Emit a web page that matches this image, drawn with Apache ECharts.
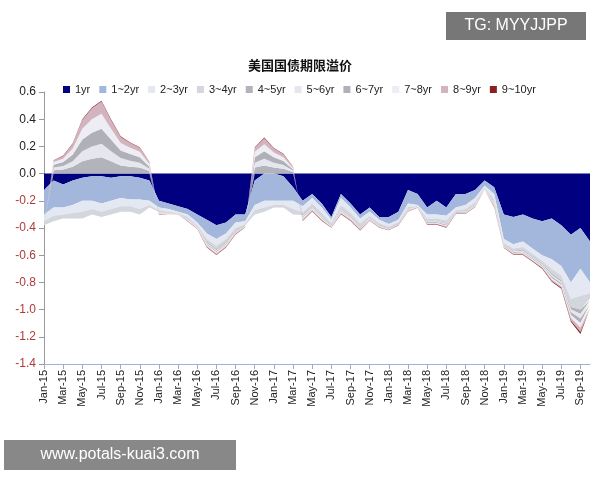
<!DOCTYPE html>
<html><head><meta charset="utf-8">
<script src="https://cdn.jsdelivr.net/npm/echarts@6/dist/echarts.min.js"></script>
<style>html,body{margin:0;padding:0;background:#fff}#c{width:600px;height:480px}</style>
</head><body><div id="c"></div>
<script>
const months = ['Jan','Feb','Mar','Apr','May','Jun','Jul','Aug','Sep','Oct','Nov','Dec'];
const categories = [];
for (let y = 15; y <= 19; y++) for (let m = 0; m < 12; m++) { if (y === 19 && m > 9) break; categories.push(months[m] + '-' + y); }
const seriesNames = ['1yr','1~2yr','2~3yr','3~4yr','4~5yr','5~6yr','6~7yr','7~8yr','8~9yr','9~10yr'];
const colors = ['#000080','#a3b7dc','#e3e8f3','#d4d6de','#b3b3bb','#e6e7ee','#b0b0b8','#ededf3','#d2b4c0','#8a2020'];
const y1 = [-0.12,-0.05,-0.08,-0.05,-0.03,-0.02,-0.02,-0.03,-0.02,-0.02,-0.03,-0.05,
 -0.2,-0.22,-0.24,-0.26,-0.3,-0.34,-0.38,-0.36,-0.3,-0.3,-0.05,0,
 0,-0.02,-0.1,-0.2,-0.15,-0.22,-0.32,-0.15,-0.22,-0.3,-0.25,-0.32,
 -0.32,-0.28,-0.12,-0.15,-0.25,-0.2,-0.25,-0.15,-0.15,-0.12,-0.05,-0.1,
 -0.3,-0.32,-0.3,-0.33,-0.35,-0.33,-0.38,-0.45,-0.4,-0.5];
const y2 = [-0.18,-0.2,-0.17,-0.18,-0.17,-0.18,-0.2,-0.17,-0.16,-0.17,-0.16,-0.15,
 -0.05,-0.04,-0.04,-0.04,-0.06,-0.1,-0.1,-0.08,-0.06,-0.05,-0.18,-0.2,
 -0.2,-0.18,-0.1,-0.04,-0.03,-0.03,-0.02,-0.03,-0.03,-0.03,-0.03,-0.02,
 -0.05,-0.06,-0.1,-0.08,-0.05,-0.1,-0.06,-0.1,-0.08,-0.06,-0.04,-0.05,
 -0.18,-0.2,-0.2,-0.22,-0.25,-0.3,-0.3,-0.35,-0.3,-0.3];
const y3 = [-0.05,-0.06,-0.05,-0.06,-0.08,-0.06,-0.06,-0.06,-0.06,-0.05,-0.07,-0.03,
 -0.02,-0.02,-0.01,-0.02,-0.02,-0.04,-0.05,-0.04,-0.04,-0.02,-0.04,-0.05,
 -0.03,-0.03,-0.06,-0.045,-0.04,-0.04,-0.025,-0.05,-0.04,-0.035,-0.03,-0.025,
 -0.02,-0.015,-0.025,-0.01,-0.03,-0.03,-0.035,-0.02,-0.03,-0.03,-0.012,-0.04,
 -0.03,-0.03,-0.04,-0.04,-0.04,-0.07,-0.07,-0.12,-0.2,-0.08];
const y4 = [-0.03,-0.04,-0.03,-0.04,-0.05,-0.04,-0.04,-0.04,-0.04,-0.04,-0.04,-0.02,
 -0.01,-0.01,-0.005,-0.01,-0.01,-0.02,-0.025,-0.02,-0.02,-0.01,-0.03,-0.03,
 -0.02,-0.02,-0.04,-0.02,-0.02,-0.02,-0.012,-0.025,-0.02,-0.02,-0.015,-0.012,
 -0.01,-0.01,-0.012,-0.005,-0.018,-0.018,-0.02,-0.01,-0.015,-0.015,-0.006,-0.02,
 -0.015,-0.018,-0.02,-0.02,-0.02,-0.035,-0.035,-0.06,-0.1,-0.04];
const y5 = [0,0.025,0.03,0.05,0.09,0.11,0.12,0.09,0.06,0.05,0.045,0.02,
 -0.004,-0.002,-0.001,-0.004,-0.003,-0.008,-0.008,-0.008,-0.005,-0.003,0.045,0.06,
 0.045,0.035,0.012,-0.008,-0.007,-0.007,-0.004,-0.008,-0.007,-0.006,-0.004,-0.004,
 -0.003,-0.003,-0.004,-0.001,-0.005,-0.005,-0.006,-0.003,-0.004,-0.004,-0.002,-0.007,
 -0.004,-0.005,-0.007,-0.007,-0.007,-0.011,-0.011,-0.02,-0.033,-0.013];
const y6 = [0,0.02,0.025,0.04,0.075,0.09,0.1,0.075,0.055,0.045,0.035,0.015,
 -0.004,-0.002,-0.001,-0.004,-0.003,-0.008,-0.008,-0.008,-0.005,-0.003,0.035,0.05,
 0.035,0.028,0.01,-0.008,-0.007,-0.007,-0.004,-0.008,-0.007,-0.006,-0.004,-0.004,
 -0.003,-0.003,-0.004,-0.001,-0.005,-0.005,-0.006,-0.003,-0.004,-0.004,-0.002,-0.007,
 -0.004,-0.005,-0.007,-0.007,-0.007,-0.011,-0.011,-0.02,-0.033,-0.013];
const y7 = [0,0.02,0.03,0.05,0.085,0.1,0.11,0.085,0.055,0.05,0.04,0.015,
 -0.004,-0.002,-0.001,-0.004,-0.003,-0.008,-0.008,-0.008,-0.005,-0.003,0.04,0.055,
 0.04,0.03,0.01,-0.008,-0.007,-0.007,-0.004,-0.008,-0.007,-0.006,-0.004,-0.004,
 -0.003,-0.003,-0.004,-0.001,-0.005,-0.005,-0.006,-0.003,-0.004,-0.004,-0.002,-0.007,
 -0.004,-0.005,-0.007,-0.007,-0.007,-0.011,-0.011,-0.02,-0.033,-0.013];
const y8 = [0,0.02,0.025,0.045,0.08,0.1,0.11,0.08,0.055,0.045,0.04,0.02,
 -0.004,-0.002,-0.001,-0.004,-0.003,-0.008,-0.008,-0.008,-0.005,-0.003,0.04,0.05,
 0.035,0.028,0.008,-0.008,-0.007,-0.007,-0.004,-0.008,-0.007,-0.006,-0.004,-0.004,
 -0.003,-0.003,-0.004,-0.001,-0.005,-0.005,-0.006,-0.003,-0.004,-0.004,-0.002,-0.007,
 -0.004,-0.005,-0.007,-0.007,-0.007,-0.011,-0.011,-0.02,-0.033,-0.013];
const y9 = [0,0.012,0.02,0.035,0.065,0.08,0.09,0.065,0.045,0.035,0.03,0.015,
 -0.004,-0.002,-0.001,-0.004,-0.003,-0.008,-0.008,-0.008,-0.005,-0.003,0.03,0.045,
 0.03,0.022,0.008,-0.008,-0.007,-0.007,-0.004,-0.008,-0.007,-0.006,-0.004,-0.004,
 -0.003,-0.003,-0.004,-0.001,-0.005,-0.005,-0.006,-0.003,-0.004,-0.004,-0.002,-0.007,
 -0.004,-0.005,-0.007,-0.007,-0.007,-0.011,-0.011,-0.02,-0.033,-0.013];
const y10 = [0,0.002,0.003,0.004,0.005,0.006,0.006,0.005,0.004,0.003,0.003,0.002,
 -0.002,-0.001,-0.001,-0.002,-0.002,-0.004,-0.004,-0.004,-0.003,-0.002,0.004,0.005,
 0.004,0.003,0.002,-0.004,-0.003,-0.003,-0.002,-0.004,-0.003,-0.003,-0.002,-0.002,
 -0.002,-0.002,-0.002,-0.001,-0.003,-0.003,-0.003,-0.002,-0.002,-0.002,-0.001,-0.004,
 -0.002,-0.003,-0.004,-0.004,-0.004,-0.006,-0.006,-0.01,-0.015,-0.007];
const values = [y1,y2,y3,y4,y5,y6,y7,y8,y9,y10];

const chart = echarts.init(document.getElementById('c'));
chart.setOption({
  animation:false,
  color: colors,
  title:{text:'美国国债期限溢价',left:'center',top:54,textStyle:{fontFamily:'Noto Sans CJK SC',fontSize:13,fontWeight:'bold',color:'#111'}},
  legend:{top:79,left:58,itemWidth:7,itemHeight:7,itemGap:9,icon:'rect',textStyle:{fontSize:11,color:'#222',fontFamily:'Liberation Sans'},data:seriesNames},
  grid:{left:44,right:10,top:92,bottom:116},
  xAxis:[
    {type:'category',data:categories,boundaryGap:false,position:'bottom',
     axisLine:{show:false},axisTick:{show:false},
     axisLabel:{rotate:90,interval:1,fontSize:11,color:'#222',fontFamily:'Liberation Sans',margin:6}},
    {type:'category',data:categories,boundaryGap:false,gridIndex:0,position:'bottom',
     axisLine:{onZero:true,lineStyle:{color:'#9db3d9'}},axisTick:{show:true,interval:1,lineStyle:{color:'#aaa'}},axisLabel:{show:false}}
  ],
  yAxis:{type:'value',min:-1.4,max:0.6,interval:0.2,splitLine:{show:false},
    axisLine:{show:true,lineStyle:{color:'#999'}},axisTick:{show:true,lineStyle:{color:'#999'}},
    axisLabel:{fontSize:12,fontFamily:'Liberation Sans',formatter:v=>v.toFixed(1),
      color:v=>v<0?'#b03a3a':'#222'}},
  series: seriesNames.map((n,i)=>({name:n,type:'line',stack:'tp',data:values[i],
    showSymbol:false,symbol:'none',lineStyle:{width:0},areaStyle:{color:colors[i],opacity:1}})),
  graphic:[
    {type:'rect',shape:{x:446,y:12,width:140,height:28},style:{fill:'#777'}},
    {type:'text',style:{x:516,y:26,text:'TG: MYYJJPP',fill:'#fff',fontSize:16,fontFamily:'Liberation Sans',textAlign:'center',textVerticalAlign:'middle'}},
    {type:'rect',shape:{x:4,y:440,width:232,height:30},style:{fill:'#888'}},
    {type:'text',style:{x:120,y:455,text:'www.potals-kuai3.com',fill:'#fff',fontSize:16,fontFamily:'Liberation Sans',textAlign:'center',textVerticalAlign:'middle'}}
  ]
});
</script></body></html>
